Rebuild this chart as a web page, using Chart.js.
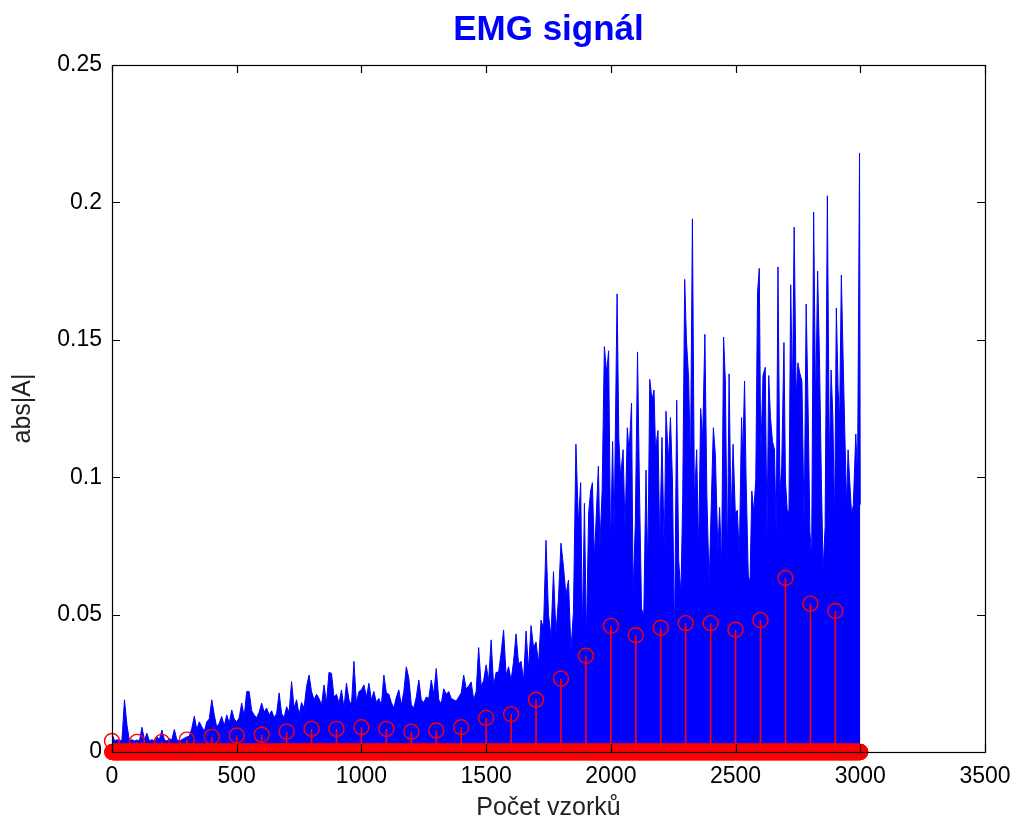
<!DOCTYPE html>
<html>
<head>
<meta charset="utf-8">
<title>EMG signál</title>
<script src="https://cdn.jsdelivr.net/npm/chart.js@4.4.0/dist/chart.umd.min.js"></script>
<style>
  body { margin: 0; background: #fff; }
  canvas { display: block; }
</style>
</head>
<body>
<canvas id="emgChart" width="1013" height="825"></canvas>
<script>
// |A| of the EMG record, one value every 10 samples (0 .. 1840)
var emgStart = [
    0.0068, 0.004, 0.0045, 0.004, 0.0045, 0.019, 0.0098, 0.004, 0.0045, 0.004,
    0.0044, 0.004, 0.009, 0.0045, 0.0068, 0.004, 0.0045, 0.004, 0.0056, 0.0045,
    0.008, 0.0045, 0.004, 0.0048, 0.0045, 0.0082, 0.0045, 0.004, 0.0045, 0.005,
    0.0055, 0.0058, 0.0086, 0.013, 0.0082, 0.011, 0.0092, 0.0075, 0.011, 0.012,
    0.019, 0.0135, 0.009, 0.0105, 0.0129, 0.0095, 0.0135, 0.0105, 0.0153, 0.012,
    0.011, 0.0125, 0.0178, 0.013, 0.022, 0.022, 0.015, 0.0135, 0.0125, 0.0145,
    0.0178, 0.0145, 0.016, 0.0135, 0.015, 0.0125, 0.014, 0.0215, 0.014, 0.0125,
    0.0165, 0.0145, 0.0256, 0.016, 0.019, 0.0135, 0.018, 0.016, 0.0238, 0.028,
    0.022, 0.019, 0.021, 0.0195, 0.017, 0.0244, 0.018, 0.029, 0.0286, 0.02,
    0.021, 0.0177, 0.0226, 0.016, 0.025, 0.019, 0.017, 0.033, 0.0177, 0.022,
    0.0226, 0.0244, 0.02, 0.025, 0.019, 0.022, 0.018, 0.0195, 0.017, 0.028,
    0.0215, 0.021, 0.018, 0.016, 0.02, 0.0226, 0.017, 0.022, 0.031, 0.0268,
    0.0172, 0.016, 0.02, 0.0262, 0.019, 0.018, 0.02, 0.0195, 0.0262, 0.021,
    0.0304, 0.019, 0.0175, 0.023, 0.021, 0.022, 0.0195, 0.019, 0.0185, 0.02,
    0.0215, 0.028, 0.023, 0.024, 0.0255, 0.019, 0.022, 0.038, 0.024, 0.026,
    0.0317, 0.026, 0.0408, 0.024, 0.029, 0.029, 0.036, 0.0444, 0.028, 0.031,
    0.026, 0.033, 0.043, 0.032, 0.033, 0.026, 0.044, 0.03, 0.046, 0.038,
    0.04, 0.032, 0.048, 0.045, 0.077, 0.05, 0.042, 0.0656, 0.043, 0.056,
    0.076, 0.0675, 0.057, 0.0626, 0.037
];

// second half of the record, where it gets dense: sample index and |A|
var emgSamples = [
    1850, 1860, 1870, 1879, 1886, 1894, 1902, 1911, 1919, 1926,
    1934, 1942, 1950, 1956, 1965, 1974, 1983, 1991, 1999, 2007,
    2013, 2025, 2032, 2039, 2049, 2057, 2066, 2073, 2083, 2089,
    2098, 2107, 2114, 2123, 2132, 2141, 2148, 2156, 2165, 2173,
    2179, 2189, 2196, 2205, 2214, 2221, 2231, 2239, 2247, 2255,
    2264, 2272, 2281, 2288, 2296, 2303, 2312, 2319, 2327, 2335,
    2344, 2352, 2360, 2368, 2377, 2385, 2394, 2404, 2411, 2419,
    2429, 2436, 2444, 2452, 2459, 2467, 2474, 2482, 2490, 2499,
    2507, 2515, 2524, 2529, 2536, 2542, 2551, 2558, 2565, 2573,
    2581, 2588, 2595, 2601, 2610, 2619, 2626, 2633, 2640, 2648,
    2656, 2663, 2670, 2678, 2685, 2694, 2700, 2707, 2714, 2721,
    2728, 2735, 2743, 2750, 2757, 2766, 2775, 2783, 2791, 2798,
    2805, 2813, 2821, 2829, 2837, 2844, 2851, 2859, 2868, 2876,
    2883, 2890, 2897, 2904, 2911, 2917, 2924, 2931, 2938, 2945,
    2951, 2958, 2965, 2972, 2982, 2989, 2997, 3000
];
var emgValues = [
    0.051, 0.112, 0.083, 0.098, 0.0426, 0.0905, 0.041, 0.087, 0.095, 0.098,
    0.0705, 0.087, 0.104, 0.075, 0.095, 0.1475, 0.138, 0.146, 0.074, 0.113,
    0.080, 0.1667, 0.114, 0.10, 0.11, 0.081, 0.118, 0.109, 0.127, 0.058,
    0.083, 0.1456, 0.10, 0.052, 0.05, 0.1026, 0.0655, 0.1356, 0.128, 0.1317,
    0.11, 0.117, 0.075, 0.1145, 0.073, 0.124, 0.106, 0.1217, 0.0986, 0.04,
    0.128, 0.0695, 0.0576, 0.092, 0.172, 0.150, 0.1356, 0.102, 0.194, 0.091,
    0.11, 0.073, 0.125, 0.114, 0.152, 0.093, 0.061, 0.095, 0.118, 0.108,
    0.073, 0.089, 0.0675, 0.151, 0.135, 0.069, 0.1376, 0.084, 0.112, 0.0867,
    0.088, 0.0715, 0.1217, 0.1075, 0.135, 0.1, 0.064, 0.062, 0.095, 0.0875,
    0.099, 0.167, 0.176, 0.1075, 0.137, 0.14, 0.079, 0.137, 0.1216, 0.113,
    0.11, 0.0786, 0.1765, 0.094, 0.104, 0.149, 0.0986, 0.088, 0.0875, 0.17,
    0.13, 0.191, 0.129, 0.1416, 0.138, 0.135, 0.0815, 0.163, 0.124, 0.08,
    0.071, 0.1965, 0.125, 0.175, 0.14, 0.099, 0.066, 0.082, 0.2024, 0.1045,
    0.139, 0.122, 0.0838, 0.1616, 0.132, 0.12, 0.1735, 0.144, 0.116, 0.0897,
    0.11, 0.098, 0.0867, 0.0897, 0.1157, 0.1, 0.218, 0.09
];

// stem plot: one value per 100-sample window, zero everywhere else
var stemSamples = [
    0, 100, 200, 300, 400, 500, 600, 700, 800, 900,
    1000, 1100, 1200, 1300, 1400, 1500, 1600, 1700, 1800, 1900,
    2000, 2100, 2200, 2300, 2400, 2500, 2600, 2700, 2800, 2900
];
var stemValues = [
    0.004, 0.0037, 0.0037, 0.0045, 0.0055, 0.006, 0.0063, 0.0074, 0.0084, 0.0084,
    0.009, 0.0084, 0.0074, 0.0078, 0.009, 0.0124, 0.0138, 0.019, 0.0267, 0.035,
    0.0459, 0.0425, 0.0452, 0.0469, 0.0469, 0.0445, 0.048, 0.0633, 0.054, 0.0513
];
var sampleCount = 3000;

var emgPoints = emgStart.map(function (v, i) { return { x: i * 10, y: v }; });
emgSamples.forEach(function (s, i) { emgPoints.push({ x: s, y: emgValues[i] }); });

// vertical stem lines, broken with null between stems
var stemLines = [];
stemSamples.forEach(function (s, i) {
    stemLines.push({ x: s, y: 0 }, { x: s, y: stemValues[i] }, { x: s, y: null });
});

// a marker for every sample of the stem vector
var stemHeads = [];
for (var s = 0; s <= sampleCount; s++) {
    var k = stemSamples.indexOf(s);
    stemHeads.push({ x: s, y: k >= 0 ? stemValues[k] : 0 });
}

// closed axes box with inward ticks on all four sides
var boxAxes = {
    id: 'boxAxes',
    afterDraw: function (chart) {
        var ctx = chart.ctx, a = chart.chartArea;
        var xs = chart.scales.x, ys = chart.scales.y;
        var len = 8;
        ctx.save();
        ctx.strokeStyle = '#000';
        ctx.lineWidth = 1.2;
        ctx.beginPath();
        xs.ticks.forEach(function (t) {
            var px = Math.round(xs.getPixelForValue(t.value)) + 0.5;
            ctx.moveTo(px, a.bottom); ctx.lineTo(px, a.bottom - len);
            ctx.moveTo(px, a.top); ctx.lineTo(px, a.top + len);
        });
        ys.ticks.forEach(function (t) {
            var py = Math.round(ys.getPixelForValue(t.value)) + 0.5;
            ctx.moveTo(a.left, py); ctx.lineTo(a.left + len, py);
            ctx.moveTo(a.right, py); ctx.lineTo(a.right - len, py);
        });
        ctx.stroke();
        ctx.strokeRect(Math.round(a.left) + 0.5, Math.round(a.top) + 0.5,
            Math.round(a.right - a.left), Math.round(a.bottom - a.top));
        ctx.restore();
    }
};

Chart.defaults.font.family = '"Liberation Sans", Arial, sans-serif';
Chart.defaults.color = '#000';

var ctx = document.getElementById('emgChart').getContext('2d');
var emgChart = new Chart(ctx, {
    type: 'line',
    data: {
        datasets: [{
            label: 'stem heads',
            data: stemHeads,
            showLine: false,
            pointStyle: 'circle',
            pointRadius: 7.5,
            pointBorderWidth: 1.4,
            pointBorderColor: '#ff0000',
            pointBackgroundColor: 'rgba(0,0,0,0)',
            clip: false,
            order: 1
        }, {
            label: 'stems',
            data: stemLines,
            borderColor: '#ff0000',
            borderWidth: 1.6,
            pointRadius: 0,
            spanGaps: false,
            order: 2
        }, {
            label: 'abs|A|',
            data: emgPoints,
            borderColor: '#0000ff',
            backgroundColor: '#0000ff',
            borderWidth: 1,
            pointRadius: 0,
            tension: 0,
            fill: 'origin',
            order: 3
        }]
    },
    options: {
        responsive: false,
        animation: false,
        events: [],
        layout: { padding: { top: 9, right: 28, left: 0, bottom: 0 } },
        plugins: {
            legend: { display: false },
            tooltip: { enabled: false },
            title: {
                display: true,
                text: 'EMG signál',
                color: '#0000ff',
                fullSize: false,
                font: { size: 35, weight: 'bold' },
                padding: { top: 0, bottom: 14 }
            }
        },
        scales: {
            x: {
                type: 'linear',
                min: 0,
                max: 3500,
                grid: { display: false, drawTicks: false },
                border: { display: false },
                ticks: {
                    stepSize: 500,
                    padding: 11,
                    maxRotation: 0,
                    autoSkip: false,
                    font: { size: 23 },
                    callback: function (v) { return String(v); }
                },
                title: {
                    display: true,
                    text: 'Počet vzorků',
                    color: '#222',
                    font: { size: 25 },
                    padding: { top: 0, bottom: 2 }
                },
                afterFit: function (scale) {
                    scale.height = 73;
                    scale.paddingLeft = 0;
                    scale.paddingRight = 0;
                }
            },
            y: {
                min: 0,
                max: 0.25,
                grid: { display: false, drawTicks: false },
                border: { display: false },
                ticks: {
                    stepSize: 0.05,
                    padding: 10,
                    font: { size: 23 },
                    callback: function (v) { return String(Math.round(v * 100) / 100); }
                },
                title: {
                    display: true,
                    text: 'abs|A|',
                    color: '#222',
                    font: { size: 25 },
                    padding: { top: 8, bottom: 0 }
                },
                afterFit: function (scale) { scale.width = 112; }
            }
        }
    },
    plugins: [boxAxes]
});
</script>
</body>
</html>
